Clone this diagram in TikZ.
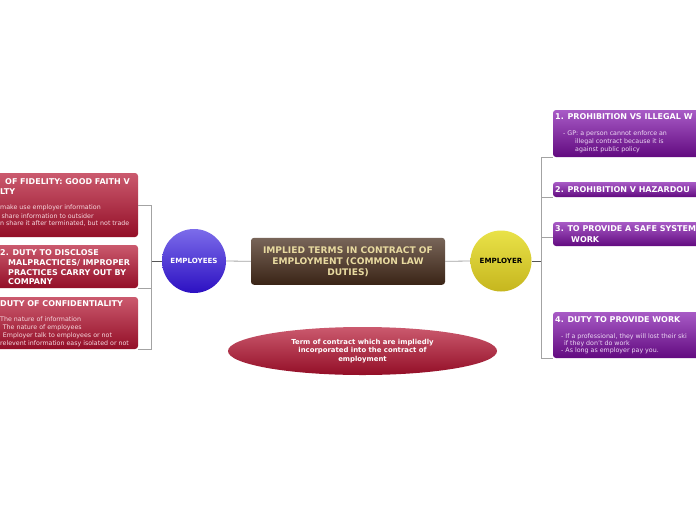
\documentclass[tikz,border=0pt]{standalone}
\usepackage{fontspec}
\setmainfont{DejaVu Sans}
\usetikzlibrary{positioning,shapes.geometric}
\definecolor{dutyRedTop}{HTML}{CB5A6E}
\definecolor{dutyRedBot}{HTML}{930E27}
\definecolor{plumTop}{HTML}{A85BC6}
\definecolor{plumBot}{HTML}{620A80}
\definecolor{barkTop}{HTML}{786559}
\definecolor{barkBot}{HTML}{3A2416}
\definecolor{wheat}{HTML}{E8DAA0}
\definecolor{staffTop}{HTML}{7C6CEA}
\definecolor{staffBot}{HTML}{2C10C2}
\definecolor{bossTop}{HTML}{E9E248}
\definecolor{bossBot}{HTML}{C6B61E}
\definecolor{wire}{HTML}{A3A3A3}
\definecolor{wireDark}{HTML}{555555}
\definecolor{pinkText}{HTML}{F6D8DE}
\definecolor{lilacText}{HTML}{EDD9F4}

\begin{document}
\begin{tikzpicture}[x=1pt,y=-1pt,
  link/.style={draw=wire,line width=0.8pt},
  hub/.style={draw=wireDark,line width=0.8pt},
  redbox/.style={rectangle,rounded corners=3pt,top color=dutyRedTop,bottom color=dutyRedBot,minimum width=158pt,inner sep=0pt},
  plumbox/.style={rectangle,rounded corners=3pt,top color=plumTop,bottom color=plumBot,minimum width=167pt,inner sep=0pt},
  ttl/.style={anchor=west,inner sep=0pt,text=white,font=\fontsize{8.0}{9}\selectfont\bfseries},
  redtxt/.style={anchor=west,inner sep=0pt,text=pinkText,font=\fontsize{6.3}{7}\selectfont},
  plumtxt/.style={anchor=west,inner sep=0pt,text=lilacText,font=\fontsize{6.3}{7}\selectfont}]
\useasboundingbox (0,0) rectangle (696,520);
\fill[white] (0,0) rectangle (696,520);
\clip (0,0) rectangle (696,520);
% centre
\node[rectangle,rounded corners=3pt,top color=barkTop,bottom color=barkBot,minimum width=194pt,minimum height=47pt,
  align=center,text=wheat,font=\fontsize{9.1}{11}\selectfont\bfseries] (core) at (348,261.3)
  {IMPLIED TERMS IN CONTRACT OF\\EMPLOYMENT (COMMON LAW\\DUTIES)};
\node[ellipse,top color=dutyRedTop,bottom color=dutyRedBot,minimum width=269pt,minimum height=48pt,inner sep=0pt,
  align=center,text=white,font=\fontsize{6.9}{8.5}\selectfont\bfseries] (note) at (362.5,351)
  {Term of contract which are impliedly\\incorporated into the contract of\\employment};
% parties
\node[circle,top color=staffTop,bottom color=staffBot,minimum size=64pt,inner sep=0pt,
  text=white,font=\fontsize{7.1}{8}\selectfont\bfseries] (emp) at (194,261) {EMPLOYEES};
\node[circle,top color=bossTop,bottom color=bossBot,minimum size=61pt,inner sep=0pt,
  text=black,font=\fontsize{7.1}{8}\selectfont\bfseries] (boss) at (501,261) {EMPLOYER};
% employee duties
\node[redbox,minimum height=64pt] (fid) at (59,205) {};
\node[ttl] (fidT1) at (5,181.3) {OF FIDELITY: GOOD FAITH V};
\node[ttl] (fidT2) at (0,191.3) {LTY};
\node[redtxt] (fidB1) at (0,208) {make use employer information};
\node[redtxt] (fidB2) at (1.5,215.7) {share information to outsider};
\node[redtxt] (fidB3) at (0,223.3) {n share it after terminated, but not trade};
\node[redbox,minimum height=43pt] (dis) at (59,266.5) {};
\node[ttl] (disT1) at (0,253) {2. DUTY TO DISCLOSE};
\node[ttl] (disT2) at (8,262.8) {MALPRACTICES/ IMPROPER};
\node[ttl] (disT3) at (8,272.5) {PRACTICES CARRY OUT BY};
\node[ttl] (disT4) at (8,282) {COMPANY};
\node[redbox,minimum height=52pt] (con) at (59,323) {};
\node[ttl] (conT1) at (0,303.3) {DUTY OF CONFIDENTIALITY};
\node[redtxt] (conB1) at (0,319.3) {The nature of information};
\node[redtxt] (conB2) at (2.7,327.3) {The nature of employees};
\node[redtxt] (conB3) at (2.7,335.3) {Employer talk to employees or not};
\node[redtxt] (conB4) at (0,343.3) {relevent information easy isolated or not};
% employer duties
\node[plumbox,minimum height=47pt] (pw1) at (636.5,133.5) {};
\node[ttl] (pw1T) at (555,116.5) {1. PROHIBITION VS ILLEGAL W};
\node[plumtxt] (pw1B1) at (563,134) {- GP: a person cannot enforce an};
\node[plumtxt] (pw1B2) at (575,141.7) {illegal contract because it is};
\node[plumtxt] (pw1B3) at (575,150.2) {against public policy};
\node[plumbox,minimum height=15pt] (pw2) at (636.5,189.5) {};
\node[ttl] (pw2T) at (555,189.5) {2. PROHIBITION V HAZARDOU};
\node[plumbox,minimum height=24pt] (pw3) at (636.5,234) {};
\node[ttl] (pw3T1) at (555,229) {3. TO PROVIDE A SAFE SYSTEM};
\node[ttl] (pw3T2) at (571,239.5) {WORK};
\node[plumbox,minimum height=46pt] (pw4) at (636.5,335) {};
\node[ttl] (pw4T) at (555,320) {4. DUTY TO PROVIDE WORK};
\node[plumtxt] (pw4B1) at (561,336.5) {- If a professional, they will lost their ski};
\node[plumtxt] (pw4B2) at (564,343.3) {if they don't do work};
\node[plumtxt] (pw4B3) at (561,351) {- As long as employer pay you.};
% links
\coordinate (lfork) at (151,261);
\coordinate (rfork) at (541.5,261);
\draw[link] (core.west) -- (emp.east);
\draw[link] (core.east) -- (boss.west);
\draw[hub] (emp.west) -- (lfork);
\draw[hub] (boss.east) -- (rfork);
\draw[link] (fid.east) -| (con.south east -| lfork) -- (con.south east);
\draw[link] (dis.south east) -- (dis.south east -| lfork);
\draw[link] (pw1.south west) -| (pw4.south west -| rfork) -- (pw4.south west);
\draw[link] (pw2.south west) -- (pw2.south west -| rfork);
\draw[link] ([yshift=-3pt]pw3.west) -- ([yshift=-3pt]pw3.west -| rfork);
\end{tikzpicture}
\end{document}
